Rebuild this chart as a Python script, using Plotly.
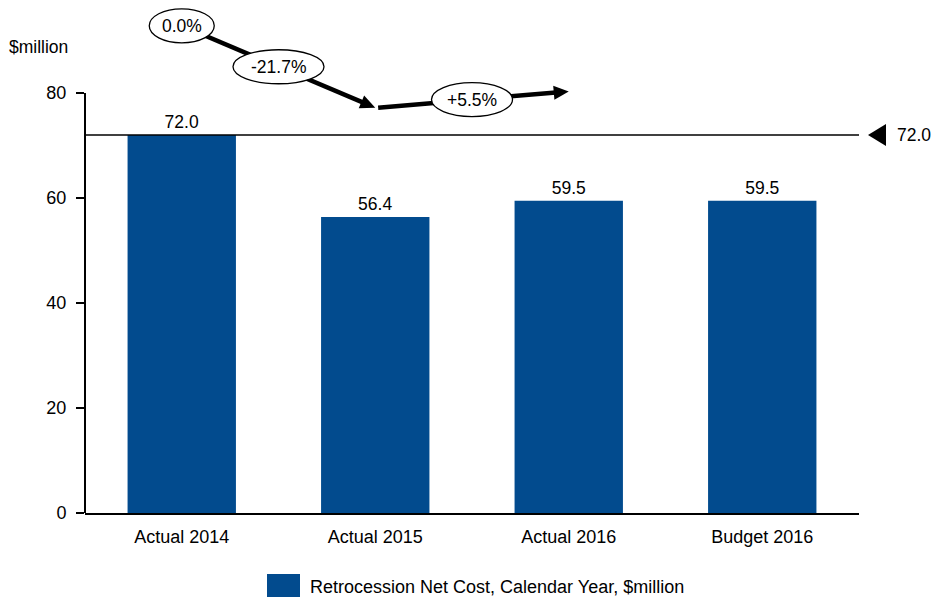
import math
import plotly.graph_objects as go

# Data
categories = ["Actual 2014", "Actual 2015", "Actual 2016", "Budget 2016"]
net_cost = [72.0, 56.4, 59.5, 59.5]
series_name = "Retrocession Net Cost, Calendar Year, $million"
y_ticks = [0, 20, 40, 60, 80]
unit_label = "$million"

BAR_COLOR = "#024B8E"
FONT = "Liberation Sans, Arial, sans-serif"
FS = 18

# Geometry of the plotting area (pixels)
W, H = 935, 599
M_L, M_R, M_T, M_B = 85, 76, 0, 86
PX_PER_UNIT = 5.25
plot_h = H - M_T - M_B
plot_w = W - M_L - M_R
px_per_cat = plot_w / len(categories)
y_top = plot_h / PX_PER_UNIT

fig = go.Figure()

fig.add_trace(go.Bar(
    x=list(range(len(categories))),
    y=net_cost,
    name=series_name,
    marker=dict(color=BAR_COLOR, line=dict(width=0)),
    width=0.56,
    text=[f"{v:.1f}" for v in net_cost],
    textposition="outside",
    textfont=dict(size=17.5, color="#000000", family=FONT),
    cliponaxis=False,
    showlegend=False,
    hoverinfo="skip",
))

# Reference line at the first actual value, with a pointer and its value on the right
ref_val = net_cost[0]
fig.add_shape(type="line", xref="paper", yref="y", x0=0, x1=1, y0=ref_val, y1=ref_val,
              line=dict(color="#000000", width=1.5), layer="above")
fig.add_shape(type="path", xref="paper", yref="paper", xsizemode="pixel", ysizemode="pixel",
              xanchor=1 + 18 / plot_w, yanchor=ref_val / y_top,
              path="M -9 0 L 9 11 L 9 -11 Z",
              fillcolor="#000000", line=dict(color="#000000", width=0), layer="above")
fig.add_annotation(x=1 + 36 / plot_w, y=ref_val / y_top, xref="paper", yref="paper",
                   text=f"{ref_val:.1f}", showarrow=False, xanchor="left", yanchor="middle",
                   font=dict(size=17.5, color="#000000", family=FONT))

# Trend arrows across the three actual years, lifted above the bars
lift = 20.8
actual = net_cost[:3]
levels = [v + lift for v in actual]
changes = [0.0] + [(actual[i] - actual[i - 1]) / actual[i - 1] * 100 for i in range(1, 3)]
labels = [f"{c:+.1f}%" if c != 0 else f"{c:.1f}%" for c in changes]

seg_starts = [(0.0, levels[0]), (1.015, levels[1])]
seg_ends = [(1.0, levels[1]), (2.0, levels[2])]
HEAD_LEN, HEAD_HALF = 15, 7
for (x0, y0), (x1, y1) in zip(seg_starts, seg_ends):
    # direction of the segment in screen pixels (y up)
    dx_px = (x1 - x0) * px_per_cat
    dy_px = (y1 - y0) * PX_PER_UNIT
    length = math.hypot(dx_px, dy_px)
    ux, uy = dx_px / length, dy_px / length
    nx, ny = -uy, ux
    # shaft stops where the head begins
    bx = x1 - (HEAD_LEN - 2) * ux / px_per_cat
    by = y1 - (HEAD_LEN - 2) * uy / PX_PER_UNIT
    fig.add_trace(go.Scatter(
        x=[x0, bx], y=[y0, by], mode="lines",
        line=dict(color="#000000", width=4.5),
        cliponaxis=False, showlegend=False, hoverinfo="skip",
    ))
    base_x, base_y = -HEAD_LEN * ux, -HEAD_LEN * uy
    pts = [(0, 0),
           (base_x + HEAD_HALF * nx, base_y + HEAD_HALF * ny),
           (base_x - HEAD_HALF * nx, base_y - HEAD_HALF * ny)]
    path = "M " + " L ".join(f"{px:.2f} {py:.2f}" for px, py in pts) + " Z"
    fig.add_shape(type="path", xref="x", yref="y", xsizemode="pixel", ysizemode="pixel",
                  xanchor=x1, yanchor=y1, path=path,
                  fillcolor="#000000", line=dict(color="#000000", width=0), layer="above")

# Ellipse badges: first at the starting point, the rest at the middle of each segment
badge_pos = [(0.0, levels[0])]
for (x0, y0), (x1, y1) in zip([(0.0, levels[0]), (1.0, levels[1])], seg_ends):
    badge_pos.append(((x0 + x1) / 2, (y0 + y1) / 2))
badge_w = [65, 91, 81]
badge_h = 34
for (bx, by), bw, lab in zip(badge_pos, badge_w, labels):
    fig.add_shape(type="circle", xref="x", yref="y", xsizemode="pixel", ysizemode="pixel",
                  xanchor=bx, yanchor=by, x0=-bw / 2, x1=bw / 2, y0=-badge_h / 2, y1=badge_h / 2,
                  fillcolor="#ffffff", line=dict(color="#000000", width=1.3), layer="above")
    fig.add_annotation(x=bx, y=by, xref="x", yref="y", text=lab, showarrow=False,
                       xanchor="center", yanchor="middle",
                       font=dict(size=17.5, color="#000000", family=FONT))

# Vertical axis line spanning the tick range only
fig.add_shape(type="line", xref="paper", yref="y", x0=0, x1=0, y0=0, y1=y_ticks[-1],
              line=dict(color="#000000", width=2), layer="above")

# Unit label
fig.add_annotation(x=(38 - M_L) / plot_w, y=(plot_h - 47) / plot_h,
                   xref="paper", yref="paper", text=unit_label, showarrow=False,
                   xanchor="center", yanchor="middle",
                   font=dict(size=17.5, color="#000000", family=FONT))

# Legend swatch and text
fig.add_shape(type="rect", xref="paper", yref="paper",
              x0=(267 - M_L) / plot_w, x1=(300 - M_L) / plot_w,
              y0=(plot_h - 597) / plot_h, y1=(plot_h - 574) / plot_h,
              fillcolor=BAR_COLOR, line=dict(width=0))
fig.add_annotation(x=(308 - M_L) / plot_w, y=(plot_h - 587) / plot_h, xref="paper", yref="paper",
                   text=series_name, showarrow=False, xanchor="left", yanchor="middle",
                   font=dict(size=FS, color="#000000", family=FONT))

fig.update_layout(
    width=W, height=H,
    margin=dict(l=M_L, r=M_R, t=M_T, b=M_B, pad=0),
    paper_bgcolor="#ffffff", plot_bgcolor="#ffffff",
    font=dict(family=FONT, size=FS, color="#000000"),
    showlegend=False,
    xaxis=dict(
        range=[-0.5, len(categories) - 0.5],
        tickvals=list(range(len(categories))), ticktext=categories,
        showline=True, linecolor="#000000", linewidth=2,
        ticks="", showgrid=False, zeroline=False,
        ticklabelstandoff=6,
        tickfont=dict(size=FS, family=FONT),
    ),
    yaxis=dict(
        range=[0, y_top], tickvals=y_ticks,
        showline=False, ticks="outside", ticklen=8, tickwidth=2, tickcolor="#000000",
        showgrid=False, zeroline=False,
        ticklabelstandoff=6,
        tickfont=dict(size=FS, family=FONT),
    ),
)

fig.write_html("out.html")
